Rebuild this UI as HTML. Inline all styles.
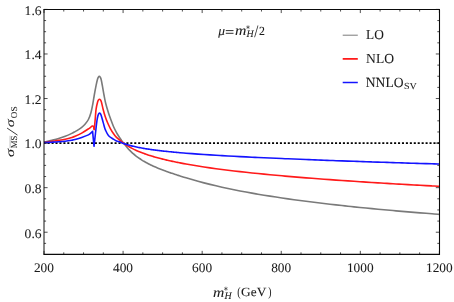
<!DOCTYPE html>
<html><head><meta charset="utf-8"><style>
html,body{margin:0;padding:0;background:#fff;}
svg{display:block;will-change:transform;}
text{font-family:"Liberation Serif",serif;fill:#1a1a1a;stroke:#1a1a1a;stroke-width:0.06px;text-rendering:geometricPrecision;}
</style></head><body>
<svg width="454" height="302" viewBox="0 0 454 302">
<rect width="454" height="302" fill="#fff"/>
<g fill="none" stroke-linejoin="round" stroke-linecap="butt">
<path d="M44.0 143.1H439.4" stroke="#000" stroke-width="1.75" stroke-dasharray="2.05 1.887" stroke-dashoffset="0.31"/>
<path d="M44.00 142.20 C45.32 141.88 49.47 140.92 51.90 140.30 C54.33 139.68 56.38 139.17 58.60 138.50 C60.82 137.83 63.00 137.15 65.20 136.30 C67.40 135.45 70.15 134.18 71.80 133.40 C73.45 132.62 74.07 132.18 75.10 131.60 C76.13 131.02 76.90 130.60 78.00 129.90 C79.10 129.20 80.53 128.33 81.70 127.40 C82.87 126.47 83.88 125.62 85.00 124.30 C86.12 122.98 87.40 121.47 88.40 119.50 C89.40 117.53 90.27 115.08 91.00 112.50 C91.73 109.92 92.25 106.92 92.80 104.00 C93.35 101.08 93.77 98.02 94.30 95.00 C94.83 91.98 95.47 88.52 96.00 85.90 C96.53 83.28 97.10 80.77 97.50 79.30 C97.90 77.83 98.10 77.58 98.40 77.10 C98.70 76.62 99.00 76.40 99.30 76.40 C99.60 76.40 99.90 76.62 100.20 77.10 C100.50 77.58 100.73 77.83 101.10 79.30 C101.47 80.77 101.92 83.28 102.40 85.90 C102.88 88.52 103.43 92.02 104.00 95.00 C104.57 97.98 105.05 100.80 105.80 103.80 C106.55 106.80 107.67 110.38 108.50 113.00 C109.33 115.62 109.95 117.20 110.80 119.50 C111.65 121.80 112.65 124.62 113.60 126.80 C114.55 128.98 115.52 130.82 116.50 132.60 C117.48 134.38 118.67 136.19 119.50 137.48 C120.33 138.77 120.83 139.42 121.50 140.35 C122.17 141.28 122.83 142.19 123.50 143.06 C124.17 143.94 124.83 144.78 125.50 145.59 C126.17 146.41 126.83 147.19 127.50 147.94 C128.17 148.69 128.83 149.41 129.50 150.10 C130.17 150.80 130.83 151.46 131.50 152.09 C132.17 152.73 132.83 153.33 133.50 153.91 C134.17 154.49 134.83 155.04 135.50 155.57 C136.17 156.11 136.83 156.61 137.50 157.11 C138.17 157.60 138.83 158.07 139.50 158.52 C140.17 158.98 140.83 159.41 141.50 159.84 C142.17 160.26 142.83 160.67 143.50 161.07 C144.17 161.46 144.83 161.85 145.50 162.22 C146.17 162.59 146.83 162.95 147.50 163.30 C148.17 163.65 148.83 163.99 149.50 164.33 C150.17 164.66 150.83 164.98 151.50 165.30 C152.17 165.61 152.83 165.92 153.50 166.22 C154.17 166.52 154.83 166.81 155.50 167.10 C156.17 167.38 156.83 167.66 157.50 167.94 C158.17 168.22 158.83 168.49 159.50 168.75 C160.17 169.02 160.83 169.28 161.50 169.53 C162.17 169.79 162.83 170.04 163.50 170.29 C164.17 170.54 164.83 170.79 165.50 171.03 C166.17 171.27 166.83 171.51 167.50 171.75 C168.17 171.99 168.83 172.22 169.50 172.45 C170.17 172.69 170.83 172.92 171.50 173.14 C172.17 173.37 172.83 173.60 173.50 173.82 C174.17 174.05 174.83 174.27 175.50 174.49 C176.17 174.71 176.83 174.93 177.50 175.15 C178.17 175.37 179.08 175.66 179.50 175.79 C179.92 175.93 178.92 175.62 180.00 175.95 C181.08 176.29 184.00 177.22 186.00 177.82 C188.00 178.43 190.00 179.02 192.00 179.60 C194.00 180.17 196.00 180.73 198.00 181.28 C200.00 181.83 202.00 182.36 204.00 182.88 C206.00 183.40 208.00 183.90 210.00 184.39 C212.00 184.88 214.00 185.36 216.00 185.83 C218.00 186.30 220.00 186.75 222.00 187.20 C224.00 187.64 226.00 188.08 228.00 188.50 C230.00 188.92 232.00 189.33 234.00 189.74 C236.00 190.14 238.00 190.54 240.00 190.92 C242.00 191.31 244.00 191.69 246.00 192.06 C248.00 192.43 250.00 192.79 252.00 193.14 C254.00 193.50 256.00 193.84 258.00 194.19 C260.00 194.53 262.00 194.86 264.00 195.19 C266.00 195.52 268.00 195.84 270.00 196.15 C272.00 196.47 274.00 196.78 276.00 197.08 C278.00 197.39 280.00 197.69 282.00 197.98 C284.00 198.28 286.00 198.57 288.00 198.85 C290.00 199.13 292.00 199.41 294.00 199.69 C296.00 199.96 298.00 200.24 300.00 200.50 C302.00 200.77 304.00 201.03 306.00 201.29 C308.00 201.55 310.00 201.80 312.00 202.05 C314.00 202.30 316.00 202.55 318.00 202.79 C320.00 203.04 322.00 203.28 324.00 203.51 C326.00 203.75 328.00 203.98 330.00 204.21 C332.00 204.44 334.00 204.67 336.00 204.89 C338.00 205.12 340.00 205.34 342.00 205.56 C344.00 205.77 346.00 205.99 348.00 206.20 C350.00 206.41 352.00 206.62 354.00 206.83 C356.00 207.04 358.00 207.24 360.00 207.44 C362.00 207.64 364.00 207.84 366.00 208.04 C368.00 208.24 370.00 208.43 372.00 208.62 C374.00 208.81 376.00 209.00 378.00 209.19 C380.00 209.38 382.00 209.57 384.00 209.75 C386.00 209.93 388.00 210.11 390.00 210.29 C392.00 210.47 394.00 210.65 396.00 210.83 C398.00 211.00 400.00 211.17 402.00 211.35 C404.00 211.52 406.00 211.69 408.00 211.86 C410.00 212.02 412.00 212.19 414.00 212.35 C416.00 212.52 418.00 212.68 420.00 212.84 C422.00 213.00 424.00 213.16 426.00 213.32 C428.00 213.48 430.00 213.64 432.00 213.79 C434.00 213.95 436.77 214.16 438.00 214.25 C439.23 214.34 439.17 214.34 439.40 214.36" stroke="#7a7a7a" stroke-width="1.6"/>
<path d="M44.00 142.60 C45.32 142.40 49.47 141.77 51.90 141.40 C54.33 141.03 56.38 140.77 58.60 140.40 C60.82 140.03 63.00 139.68 65.20 139.20 C67.40 138.72 70.15 137.98 71.80 137.50 C73.45 137.02 73.45 137.03 75.10 136.30 C76.75 135.57 79.48 134.33 81.70 133.10 C83.92 131.87 86.63 130.07 88.40 128.90 C90.17 127.73 91.43 126.50 92.30 126.10 C93.17 125.70 93.38 126.43 93.60 126.50 L93.60 126.50 C93.70 127.00 93.97 130.33 94.20 129.50 C94.43 128.67 94.68 124.88 95.00 121.50 C95.32 118.12 95.67 112.45 96.10 109.20 C96.53 105.95 97.18 103.55 97.60 102.00 C98.02 100.45 98.28 100.35 98.60 99.90 C98.92 99.45 99.20 99.30 99.50 99.30 C99.80 99.30 100.08 99.45 100.40 99.90 C100.72 100.35 100.95 100.45 101.40 102.00 C101.85 103.55 102.47 106.78 103.10 109.20 C103.73 111.62 104.45 114.23 105.20 116.50 C105.95 118.77 106.72 120.75 107.60 122.80 C108.48 124.85 109.50 126.97 110.50 128.80 C111.50 130.63 112.60 132.37 113.60 133.80 C114.60 135.23 115.52 136.37 116.50 137.40 C117.48 138.43 118.67 139.25 119.50 139.97 C120.33 140.68 120.83 141.14 121.50 141.68 C122.17 142.22 122.83 142.73 123.50 143.22 C124.17 143.71 124.83 144.17 125.50 144.61 C126.17 145.06 126.83 145.48 127.50 145.88 C128.17 146.29 128.83 146.68 129.50 147.06 C130.17 147.43 130.83 147.79 131.50 148.14 C132.17 148.49 132.83 148.83 133.50 149.15 C134.17 149.48 134.83 149.79 135.50 150.10 C136.17 150.40 136.83 150.70 137.50 150.98 C138.17 151.27 138.83 151.55 139.50 151.82 C140.17 152.09 140.83 152.35 141.50 152.61 C142.17 152.87 142.83 153.12 143.50 153.36 C144.17 153.61 144.83 153.84 145.50 154.08 C146.17 154.31 146.83 154.54 147.50 154.76 C148.17 154.98 148.83 155.20 149.50 155.41 C150.17 155.62 150.83 155.83 151.50 156.03 C152.17 156.24 152.83 156.44 153.50 156.63 C154.17 156.83 154.83 157.02 155.50 157.21 C156.17 157.40 156.83 157.58 157.50 157.76 C158.17 157.94 158.83 158.12 159.50 158.30 C160.17 158.47 160.83 158.64 161.50 158.81 C162.17 158.98 162.83 159.15 163.50 159.31 C164.17 159.47 164.83 159.63 165.50 159.79 C166.17 159.95 166.83 160.11 167.50 160.26 C168.17 160.41 168.83 160.56 169.50 160.71 C170.17 160.86 170.83 161.01 171.50 161.15 C172.17 161.30 172.83 161.44 173.50 161.58 C174.17 161.72 174.83 161.86 175.50 162.00 C176.17 162.14 176.83 162.27 177.50 162.40 C178.17 162.54 179.08 162.72 179.50 162.80 C179.92 162.88 178.92 162.69 180.00 162.90 C181.08 163.10 184.00 163.66 186.00 164.02 C188.00 164.38 190.00 164.72 192.00 165.06 C194.00 165.40 196.00 165.73 198.00 166.04 C200.00 166.36 202.00 166.67 204.00 166.97 C206.00 167.27 208.00 167.56 210.00 167.84 C212.00 168.12 214.00 168.40 216.00 168.67 C218.00 168.94 220.00 169.20 222.00 169.46 C224.00 169.72 226.00 169.97 228.00 170.21 C230.00 170.46 232.00 170.70 234.00 170.93 C236.00 171.17 238.00 171.40 240.00 171.63 C242.00 171.85 244.00 172.07 246.00 172.29 C248.00 172.51 250.00 172.72 252.00 172.93 C254.00 173.14 256.00 173.34 258.00 173.55 C260.00 173.75 262.00 173.95 264.00 174.14 C266.00 174.34 268.00 174.53 270.00 174.72 C272.00 174.91 274.00 175.09 276.00 175.28 C278.00 175.46 280.00 175.64 282.00 175.82 C284.00 176.00 286.00 176.17 288.00 176.35 C290.00 176.52 292.00 176.69 294.00 176.86 C296.00 177.02 298.00 177.19 300.00 177.35 C302.00 177.52 304.00 177.68 306.00 177.84 C308.00 178.00 310.00 178.16 312.00 178.31 C314.00 178.47 316.00 178.62 318.00 178.77 C320.00 178.92 322.00 179.07 324.00 179.22 C326.00 179.37 328.00 179.52 330.00 179.66 C332.00 179.80 334.00 179.95 336.00 180.09 C338.00 180.23 340.00 180.37 342.00 180.51 C344.00 180.65 346.00 180.79 348.00 180.92 C350.00 181.06 352.00 181.19 354.00 181.32 C356.00 181.46 358.00 181.59 360.00 181.72 C362.00 181.85 364.00 181.98 366.00 182.11 C368.00 182.23 370.00 182.36 372.00 182.49 C374.00 182.61 376.00 182.73 378.00 182.86 C380.00 182.98 382.00 183.10 384.00 183.22 C386.00 183.34 388.00 183.46 390.00 183.58 C392.00 183.70 394.00 183.82 396.00 183.94 C398.00 184.05 400.00 184.17 402.00 184.28 C404.00 184.40 406.00 184.51 408.00 184.62 C410.00 184.74 412.00 184.85 414.00 184.96 C416.00 185.07 418.00 185.18 420.00 185.29 C422.00 185.40 424.00 185.51 426.00 185.62 C428.00 185.72 430.00 185.83 432.00 185.94 C434.00 186.04 436.77 186.19 438.00 186.25 C439.23 186.32 439.17 186.31 439.40 186.33 " stroke="#ff1a1a" stroke-width="1.6"/>
<path d="M44.00 142.60 C45.32 142.53 49.47 142.33 51.90 142.20 C54.33 142.07 56.38 141.97 58.60 141.80 C60.82 141.63 63.00 141.47 65.20 141.20 C67.40 140.93 70.15 140.48 71.80 140.20 C73.45 139.92 73.45 139.95 75.10 139.50 C76.75 139.05 79.48 138.27 81.70 137.50 C83.92 136.73 86.80 135.70 88.40 134.90 C90.00 134.10 90.60 133.28 91.30 132.70 C92.00 132.12 92.38 131.62 92.60 131.40 L92.60 131.40 C92.83 133.88 93.77 143.82 94.00 146.30 L94.00 146.30 C94.23 144.25 94.92 138.22 95.40 134.00 C95.88 129.78 96.47 124.08 96.90 121.00 C97.33 117.92 97.68 116.73 98.00 115.50 C98.32 114.27 98.53 114.02 98.80 113.60 C99.07 113.18 99.33 113.00 99.60 113.00 C99.87 113.00 100.13 113.18 100.40 113.60 C100.67 114.02 100.85 114.43 101.20 115.50 C101.55 116.57 102.03 118.33 102.50 120.00 C102.97 121.67 103.52 123.85 104.00 125.50 C104.48 127.15 104.63 128.18 105.40 129.90 C106.17 131.62 107.23 134.23 108.60 135.80 C109.97 137.37 112.28 138.43 113.60 139.30 C114.92 140.17 115.52 140.58 116.50 141.00 C117.48 141.42 118.67 141.54 119.50 141.82 C120.33 142.10 120.83 142.40 121.50 142.67 C122.17 142.94 122.83 143.20 123.50 143.44 C124.17 143.68 124.83 143.91 125.50 144.13 C126.17 144.34 126.83 144.55 127.50 144.75 C128.17 144.95 128.83 145.14 129.50 145.32 C130.17 145.51 130.83 145.68 131.50 145.85 C132.17 146.02 132.83 146.18 133.50 146.34 C134.17 146.50 134.83 146.65 135.50 146.79 C136.17 146.94 136.83 147.08 137.50 147.22 C138.17 147.35 138.83 147.49 139.50 147.62 C140.17 147.74 140.83 147.87 141.50 147.99 C142.17 148.11 142.83 148.23 143.50 148.34 C144.17 148.46 144.83 148.57 145.50 148.68 C146.17 148.79 146.83 148.89 147.50 149.00 C148.17 149.10 148.83 149.20 149.50 149.30 C150.17 149.40 150.83 149.49 151.50 149.59 C152.17 149.68 152.83 149.77 153.50 149.86 C154.17 149.95 154.83 150.04 155.50 150.13 C156.17 150.21 156.83 150.30 157.50 150.38 C158.17 150.46 158.83 150.54 159.50 150.62 C160.17 150.70 160.83 150.78 161.50 150.86 C162.17 150.93 162.83 151.01 163.50 151.08 C164.17 151.16 164.83 151.23 165.50 151.30 C166.17 151.37 166.83 151.44 167.50 151.51 C168.17 151.58 168.83 151.65 169.50 151.71 C170.17 151.78 170.83 151.84 171.50 151.91 C172.17 151.97 172.83 152.04 173.50 152.10 C174.17 152.16 174.83 152.22 175.50 152.29 C176.17 152.35 176.83 152.41 177.50 152.47 C178.17 152.53 179.08 152.61 179.50 152.64 C179.92 152.68 178.92 152.59 180.00 152.68 C181.08 152.77 184.00 153.02 186.00 153.18 C188.00 153.34 190.00 153.50 192.00 153.65 C194.00 153.80 196.00 153.94 198.00 154.08 C200.00 154.22 202.00 154.36 204.00 154.49 C206.00 154.63 208.00 154.76 210.00 154.88 C212.00 155.01 214.00 155.13 216.00 155.25 C218.00 155.38 220.00 155.49 222.00 155.61 C224.00 155.73 226.00 155.84 228.00 155.95 C230.00 156.06 232.00 156.17 234.00 156.28 C236.00 156.39 238.00 156.49 240.00 156.59 C242.00 156.70 244.00 156.80 246.00 156.90 C248.00 157.00 250.00 157.10 252.00 157.20 C254.00 157.29 256.00 157.39 258.00 157.48 C260.00 157.58 262.00 157.67 264.00 157.76 C266.00 157.86 268.00 157.95 270.00 158.04 C272.00 158.13 274.00 158.22 276.00 158.30 C278.00 158.39 280.00 158.48 282.00 158.56 C284.00 158.65 286.00 158.73 288.00 158.82 C290.00 158.90 292.00 158.98 294.00 159.06 C296.00 159.15 298.00 159.23 300.00 159.31 C302.00 159.39 304.00 159.47 306.00 159.55 C308.00 159.63 310.00 159.70 312.00 159.78 C314.00 159.86 316.00 159.93 318.00 160.01 C320.00 160.09 322.00 160.16 324.00 160.24 C326.00 160.31 328.00 160.39 330.00 160.46 C332.00 160.53 334.00 160.61 336.00 160.68 C338.00 160.75 340.00 160.82 342.00 160.89 C344.00 160.97 346.00 161.04 348.00 161.11 C350.00 161.18 352.00 161.25 354.00 161.32 C356.00 161.39 358.00 161.45 360.00 161.52 C362.00 161.59 364.00 161.66 366.00 161.73 C368.00 161.79 370.00 161.86 372.00 161.93 C374.00 161.99 376.00 162.06 378.00 162.13 C380.00 162.19 382.00 162.26 384.00 162.32 C386.00 162.39 388.00 162.45 390.00 162.52 C392.00 162.58 394.00 162.65 396.00 162.71 C398.00 162.77 400.00 162.84 402.00 162.90 C404.00 162.96 406.00 163.03 408.00 163.09 C410.00 163.15 412.00 163.21 414.00 163.27 C416.00 163.33 418.00 163.40 420.00 163.46 C422.00 163.52 424.00 163.58 426.00 163.64 C428.00 163.70 430.00 163.76 432.00 163.82 C434.00 163.88 436.77 163.96 438.00 164.00 C439.23 164.03 439.17 164.03 439.40 164.04 " stroke="#1414ff" stroke-width="1.6"/>
</g>
<g stroke="#222" stroke-width="0.8" fill="none"><path d="M44.00 254.45v-3.60 M44.00 9.45v3.60"/><path d="M63.77 254.45v-2.10 M63.77 9.45v2.10"/><path d="M83.54 254.45v-2.10 M83.54 9.45v2.10"/><path d="M103.31 254.45v-2.10 M103.31 9.45v2.10"/><path d="M123.08 254.45v-3.60 M123.08 9.45v3.60"/><path d="M142.85 254.45v-2.10 M142.85 9.45v2.10"/><path d="M162.62 254.45v-2.10 M162.62 9.45v2.10"/><path d="M182.39 254.45v-2.10 M182.39 9.45v2.10"/><path d="M202.16 254.45v-3.60 M202.16 9.45v3.60"/><path d="M221.93 254.45v-2.10 M221.93 9.45v2.10"/><path d="M241.70 254.45v-2.10 M241.70 9.45v2.10"/><path d="M261.47 254.45v-2.10 M261.47 9.45v2.10"/><path d="M281.24 254.45v-3.60 M281.24 9.45v3.60"/><path d="M301.01 254.45v-2.10 M301.01 9.45v2.10"/><path d="M320.78 254.45v-2.10 M320.78 9.45v2.10"/><path d="M340.55 254.45v-2.10 M340.55 9.45v2.10"/><path d="M360.32 254.45v-3.60 M360.32 9.45v3.60"/><path d="M380.09 254.45v-2.10 M380.09 9.45v2.10"/><path d="M399.86 254.45v-2.10 M399.86 9.45v2.10"/><path d="M419.63 254.45v-2.10 M419.63 9.45v2.10"/><path d="M439.40 254.45v-3.60 M439.40 9.45v3.60"/><path d="M44.00 254.50h2.10 M439.40 254.50h-2.10"/><path d="M44.00 243.36h2.10 M439.40 243.36h-2.10"/><path d="M44.00 232.22h3.60 M439.40 232.22h-3.60"/><path d="M44.00 221.08h2.10 M439.40 221.08h-2.10"/><path d="M44.00 209.94h2.10 M439.40 209.94h-2.10"/><path d="M44.00 198.80h2.10 M439.40 198.80h-2.10"/><path d="M44.00 187.66h3.60 M439.40 187.66h-3.60"/><path d="M44.00 176.52h2.10 M439.40 176.52h-2.10"/><path d="M44.00 165.38h2.10 M439.40 165.38h-2.10"/><path d="M44.00 154.24h2.10 M439.40 154.24h-2.10"/><path d="M44.00 143.10h3.60 M439.40 143.10h-3.60"/><path d="M44.00 131.96h2.10 M439.40 131.96h-2.10"/><path d="M44.00 120.82h2.10 M439.40 120.82h-2.10"/><path d="M44.00 109.68h2.10 M439.40 109.68h-2.10"/><path d="M44.00 98.54h3.60 M439.40 98.54h-3.60"/><path d="M44.00 87.40h2.10 M439.40 87.40h-2.10"/><path d="M44.00 76.26h2.10 M439.40 76.26h-2.10"/><path d="M44.00 65.12h2.10 M439.40 65.12h-2.10"/><path d="M44.00 53.98h3.60 M439.40 53.98h-3.60"/><path d="M44.00 42.84h2.10 M439.40 42.84h-2.10"/><path d="M44.00 31.70h2.10 M439.40 31.70h-2.10"/><path d="M44.00 20.56h2.10 M439.40 20.56h-2.10"/><path d="M44.00 9.42h3.60 M439.40 9.42h-3.60"/></g>
<path d="M43.5 9.5H440M439.5 9.5V254.9M440 254.4H43.5" fill="none" stroke="#0a0a0a" stroke-width="1.08"/><path d="M44.0 9.45V254.45" fill="none" stroke="#111" stroke-width="1.0"/>
<g><text transform="matrix(1.0391 0 0 1 24.60 237.52)" font-size="13.09">0.6</text><text transform="matrix(1.0391 0 0 1 24.60 192.96)" font-size="13.09">0.8</text><text transform="matrix(1.0391 0 0 1 24.60 148.40)" font-size="13.09">1.0</text><text transform="matrix(1.0391 0 0 1 24.60 103.84)" font-size="13.09">1.2</text><text transform="matrix(1.0391 0 0 1 24.60 59.28)" font-size="13.09">1.4</text><text transform="matrix(1.0391 0 0 1 24.60 14.72)" font-size="13.09">1.6</text><text transform="matrix(1.0227 0 0 1 33.95 272.47)" font-size="13.04">200</text><text transform="matrix(1.0227 0 0 1 113.03 272.47)" font-size="13.04">400</text><text transform="matrix(1.0227 0 0 1 192.11 272.47)" font-size="13.04">600</text><text transform="matrix(1.0227 0 0 1 271.19 272.47)" font-size="13.04">800</text><text transform="matrix(1.0227 0 0 1 346.94 272.47)" font-size="13.04">1000</text><text transform="matrix(1.0227 0 0 1 426.02 272.47)" font-size="13.04">1200</text></g>
<g fill="none">
<path d="M342.7 35.2H357.8" stroke="#808080" stroke-width="1.05"/>
<path d="M342.7 58.9H357.8" stroke="#ff1a1a" stroke-width="1.75"/>
<path d="M342.7 82.5H357.8" stroke="#1414ff" stroke-width="1.5"/>
</g>
<g><text transform="matrix(0.9765 0 0 1 366.10 39.26)" font-size="13.68">LO</text><text transform="matrix(0.9818 0 0 1 366.10 62.76)" font-size="13.83">NLO</text><text transform="matrix(0.9711 0 0 1 365.80 86.66)" font-size="13.98">NNLO</text><text transform="matrix(1.0859 0 0 1 403.90 89.06)" font-size="9.30">SV</text></g>
<g><text transform="matrix(1.0212 0 0 1 218.33 34.67)" font-size="13.19" font-style="italic">μ</text><path d="M225.8 30.6H233.5M225.8 33.3H233.5" stroke="#1a1a1a" stroke-width="0.9" fill="none"/><text transform="matrix(1.1236 0 0 1 235.00 34.90)" font-size="14.04" font-style="italic">m</text><path d="M248.00 25.30L248.00 29.10M249.65 26.25L246.35 28.15M249.65 28.15L246.35 26.25" stroke="#1a1a1a" stroke-width="0.55" fill="none"/><text transform="matrix(0.9948 0 0 1 246.42 37.10)" font-size="9.92" font-style="italic">H</text><text transform="matrix(0.8458 0 0 1 254.20 37.23)" font-size="17.31">/</text><text transform="matrix(0.9534 0 0 1 258.90 34.90)" font-size="12.38">2</text></g>
<g><text transform="matrix(1.1138 0 0 1 212.90 296.70)" font-size="14.04" font-style="italic">m</text><path d="M225.90 286.70L225.90 290.70M227.63 287.70L224.17 289.70M227.63 289.70L224.17 287.70" stroke="#1a1a1a" stroke-width="0.55" fill="none"/><text transform="matrix(0.9948 0 0 1 224.62 298.80)" font-size="9.92" font-style="italic">H</text><text transform="matrix(0.7633 0 0 1 237.20 296.24)" font-size="13.00">(</text><text transform="matrix(1.0684 0 0 1 241.00 296.21)" font-size="12.55">GeV</text><text transform="matrix(0.7402 0 0 1 268.20 296.24)" font-size="13.00">)</text></g>
<g transform="translate(0 157) rotate(-90)"><text transform="matrix(1.3188 0 0 1 0.00 14.08)" font-size="12.13" font-style="italic">σ</text><text transform="matrix(0.9851 0 0 1 8.70 16.81)" font-size="8.92">MS</text><path d="M9 10.1H21.2" stroke="#555" stroke-width="0.4" fill="none"/><path d="M21.9 17.5L28.9 7.1" stroke="#1a1a1a" stroke-width="0.85" fill="none"/><text transform="matrix(1.3344 0 0 1 29.80 14.08)" font-size="12.13" font-style="italic">σ</text><text transform="matrix(1.0441 0 0 1 38.80 16.81)" font-size="8.92">OS</text></g>
</svg>
</body></html>
